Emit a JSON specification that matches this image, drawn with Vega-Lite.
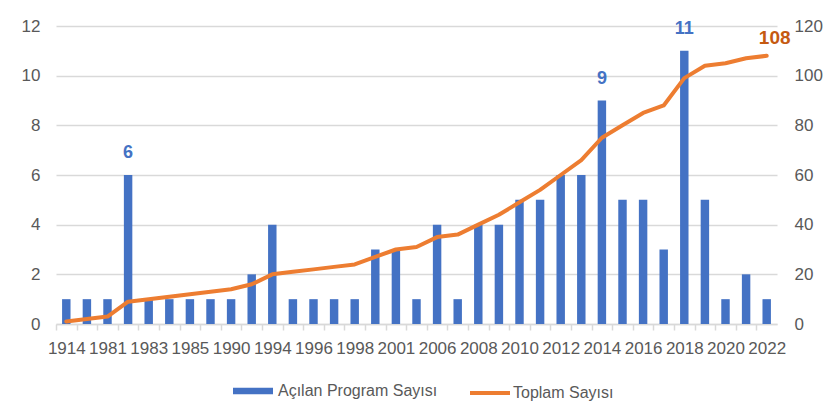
{
  "$schema": "https://vega.github.io/schema/vega-lite/v6.json",
  "width": 721,
  "height": 298,
  "autosize": {"type": "none"},
  "padding": {"left": 56, "top": 26, "right": 52, "bottom": 95},
  "background": "white",
  "config": {
    "view": {"stroke": null},
    "font": "Liberation Sans"
  },
  "data": {"values": [
    {"year": "1914", "count": 1, "total": 1, "label": ""},
    {"year": "1980", "count": 1, "total": 2, "label": ""},
    {"year": "1981", "count": 1, "total": 3, "label": ""},
    {"year": "1982", "count": 6, "total": 9, "label": "6"},
    {"year": "1983", "count": 1, "total": 10, "label": ""},
    {"year": "1984", "count": 1, "total": 11, "label": ""},
    {"year": "1985", "count": 1, "total": 12, "label": ""},
    {"year": "1987", "count": 1, "total": 13, "label": ""},
    {"year": "1990", "count": 1, "total": 14, "label": ""},
    {"year": "1992", "count": 2, "total": 16, "label": ""},
    {"year": "1994", "count": 4, "total": 20, "label": ""},
    {"year": "1995", "count": 1, "total": 21, "label": ""},
    {"year": "1996", "count": 1, "total": 22, "label": ""},
    {"year": "1997", "count": 1, "total": 23, "label": ""},
    {"year": "1998", "count": 1, "total": 24, "label": ""},
    {"year": "2000", "count": 3, "total": 27, "label": ""},
    {"year": "2001", "count": 3, "total": 30, "label": ""},
    {"year": "2004", "count": 1, "total": 31, "label": ""},
    {"year": "2006", "count": 4, "total": 35, "label": ""},
    {"year": "2007", "count": 1, "total": 36, "label": ""},
    {"year": "2008", "count": 4, "total": 40, "label": ""},
    {"year": "2009", "count": 4, "total": 44, "label": ""},
    {"year": "2010", "count": 5, "total": 49, "label": ""},
    {"year": "2011", "count": 5, "total": 54, "label": ""},
    {"year": "2012", "count": 6, "total": 60, "label": ""},
    {"year": "2013", "count": 6, "total": 66, "label": ""},
    {"year": "2014", "count": 9, "total": 75, "label": "9"},
    {"year": "2015", "count": 5, "total": 80, "label": ""},
    {"year": "2016", "count": 5, "total": 85, "label": ""},
    {"year": "2017", "count": 3, "total": 88, "label": ""},
    {"year": "2018", "count": 11, "total": 99, "label": "11"},
    {"year": "2019", "count": 5, "total": 104, "label": ""},
    {"year": "2020", "count": 1, "total": 105, "label": ""},
    {"year": "2021", "count": 2, "total": 107, "label": ""},
    {"year": "2022", "count": 1, "total": 108, "label": ""}
  ]},
  "encoding": {
    "x": {
      "field": "year", "type": "ordinal", "sort": null, "title": null,
      "scale": {"paddingInner": 0.59, "paddingOuter": 0.295},
      "axis": {
        "labelAngle": 0,
        "labelExpr": "indexof(['1914','1981','1983','1985','1990','1994','1996','1998','2001','2006','2008','2010','2012','2014','2016','2018','2020','2022'], datum.label) >= 0 ? datum.label : ''",
        "labelFont": "Liberation Sans", "labelFontSize": 17, "labelColor": "#595959",
        "domainColor": "#D9D9D9", "domainWidth": 1.5,
        "tickColor": "#D9D9D9", "tickWidth": 1.5, "tickSize": 6,
        "tickOffset": -10.3, "labelOffset": 10.3,
        "labelPadding": 10, "grid": false
      }
    }
  },
  "layer": [
    {
      "layer": [
        {
          "mark": {"type": "bar"},
          "encoding": {
            "y": {
              "field": "count", "type": "quantitative", "title": null,
              "scale": {"domain": [0, 12], "nice": false},
              "axis": {"orient": "left", "values": [0, 2, 4, 6, 8, 10, 12], "domain": false, "ticks": false, "labelPadding": 16, "grid": true, "gridColor": "#D9D9D9", "gridWidth": 1.5, "labelFont": "Liberation Sans", "labelFontSize": 17, "labelColor": "#595959"}
            },
            "fill": {
              "datum": "Açılan Program Sayısı",
              "scale": {"range": ["#4472C4"]},
              "legend": {"title": null, "orient": "none", "legendX": 177, "legendY": 345, "direction": "horizontal", "symbolType": "M-1,-0.16L1,-0.16L1,0.16L-1,0.16Z", "symbolSize": 1600, "symbolStrokeWidth": 0, "labelOffset": 5, "labelFont": "Liberation Sans", "labelFontSize": 16, "labelColor": "#595959"}
            }
          }
        },
        {
          "mark": {"type": "text", "fontWeight": "bold", "fontSize": 18, "color": "#4472C4", "dy": -13, "baseline": "bottom"},
          "encoding": {
            "y": {"field": "count", "type": "quantitative", "title": null},
            "text": {"field": "label"}
          }
        }
      ]
    },
    {
      "layer": [
        {
          "mark": {"type": "line", "strokeWidth": 4, "strokeCap": "round", "strokeJoin": "round"},
          "encoding": {
            "y": {
              "field": "total", "type": "quantitative", "title": null,
              "scale": {"domain": [0, 120], "nice": false},
              "axis": {"orient": "right", "values": [0, 20, 40, 60, 80, 100, 120], "domain": false, "ticks": false, "labelPadding": 17, "grid": false, "labelFont": "Liberation Sans", "labelFontSize": 17, "labelColor": "#595959"}
            },
            "stroke": {
              "datum": "Toplam Sayısı",
              "scale": {"range": ["#ED7D31"]},
              "legend": {"title": null, "orient": "none", "legendX": 412, "legendY": 345, "direction": "horizontal", "symbolType": "stroke", "symbolSize": 1600, "symbolStrokeWidth": 4, "labelOffset": 1, "labelFont": "Liberation Sans", "labelFontSize": 16, "labelColor": "#595959"}
            }
          }
        },
        {
          "transform": [{"filter": "datum.year == '2022'"}],
          "mark": {"type": "text", "fontWeight": "bold", "fontSize": 19, "color": "#C55A11", "dx": 8, "dy": -8, "baseline": "bottom"},
          "encoding": {
            "y": {"field": "total", "type": "quantitative", "title": null},
            "text": {"field": "total"}
          }
        }
      ]
    }
  ],
  "resolve": {"scale": {"y": "independent"}}
}
